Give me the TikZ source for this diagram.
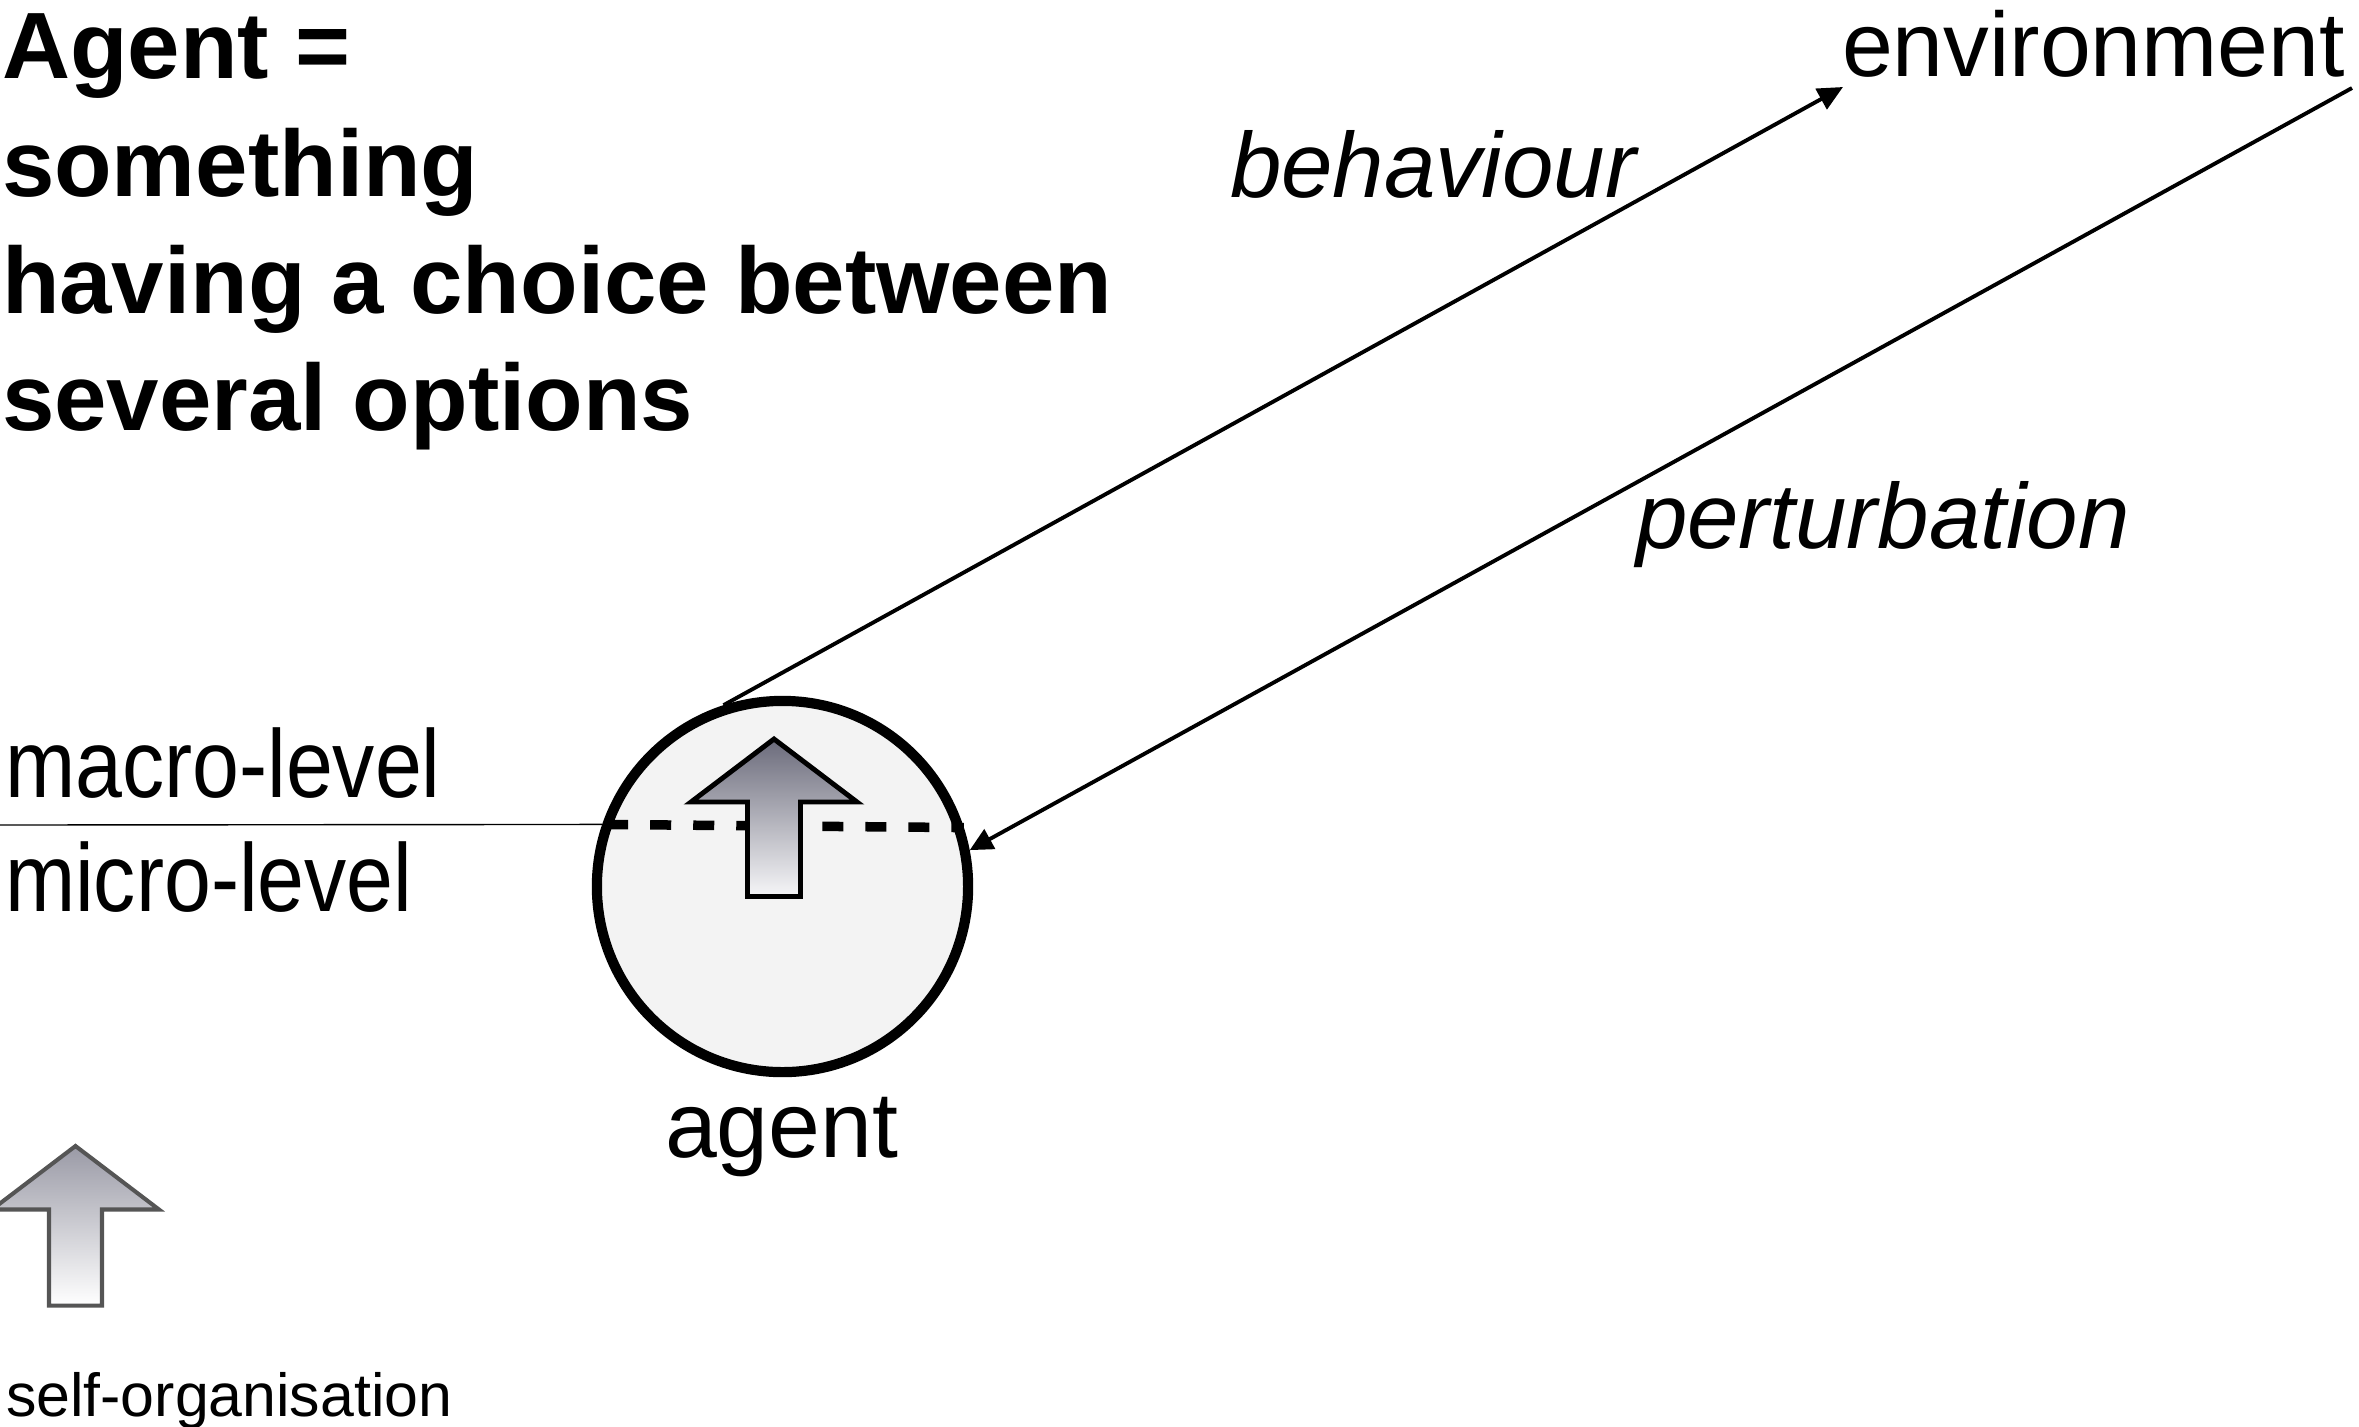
\documentclass[tikz,border=0pt]{standalone}
\usepackage{fontspec}
\setmainfont{Liberation Sans}
\usepackage{graphicx}
\usetikzlibrary{arrows.meta}
\definecolor{circfill}{HTML}{F3F3F3}
\definecolor{arrdark}{HTML}{6B6B7B}
\definecolor{arrlight}{HTML}{F6F6F8}
\definecolor{soTop}{HTML}{9A9AA6}
\definecolor{soStroke}{HTML}{555555}
\begin{document}
\begin{tikzpicture}[x=0.01cm,y=-0.01cm,
  lbl/.style={inner sep=0pt, outer sep=0pt, anchor=base west},
  headfont/.style={font=\bfseries\fontsize{26.8}{33}\selectfont},
  bigfont/.style={font=\fontsize{26}{32}\selectfont},
  itfont/.style={font=\itshape\fontsize{26.3}{32}\selectfont},
  flow/.style={line width=1.1pt},
  agentcircle/.style={circle, draw=black, line width=0.102cm, fill=circfill, minimum size=3.71cm, inner sep=0pt}
]
\useasboundingbox (0,0) rectangle (2359,1426);

% heading
\node[lbl, headfont] (h1) at (2,78) {Agent =};
\node[lbl, headfont] (h2) at (2,196) {something};
\node[lbl, headfont] (h3) at (2,313) {having a choice between};
\node[lbl, headfont] (h4) at (2,430) {several options};

% environment and labels
\node[lbl, bigfont] (env) at (1842,76) {environment};
\node[lbl, itfont] (beh) at (1230,197) {behaviour};
\node[lbl, itfont] (pert) at (1636,548) {perturbation};

% agent circle
\node[agentcircle] (agent) at (782.5,886.5) {};
\node[lbl, font=\fontsize{26.5}{32}\selectfont] (agentlbl) at (665,1157) {agent};

% level lines
\coordinate (lvl) at (0,825);
\draw[line width=0.4pt] (lvl) -- (agent.161.17);
\draw[line width=0.095cm, dash pattern=on 0.21cm off 0.22cm, dash phase=0.38cm] (agent.161.17) -- (agent.18.83);

% inner arrow
\draw[line width=1.4pt, line join=miter, top color=arrdark, bottom color=arrlight]
  (774,739) -- (857,802) -- (800.5,802) -- (800.5,896.5) -- (747.5,896.5) -- (747.5,802) -- (691,802) -- cycle;

\node[lbl, font=\fontsize{27.4}{32}\selectfont] (macro) at (5,797) {\scalebox{0.875}[1]{macro-level}};
\node[lbl, font=\fontsize{27.4}{32}\selectfont] (micro) at (5,911) {\scalebox{0.875}[1]{micro-level}};

% flows
\coordinate (envin) at (1843,87);
\coordinate (envout) at (2352,88);
\draw[flow, -{Triangle[length=0.25cm,width=0.23cm]}] (agent.108.3) -- (envin);
\draw[flow, -{Triangle[length=0.23cm,width=0.22cm]}] (envout) -- (agent.11.7);

% self-organisation arrow
\draw[line width=1.15pt, draw=soStroke, line join=miter, top color=soTop, bottom color=white]
  (75.5,1146) -- (159,1209.5) -- (102,1209.5) -- (102,1305.5) -- (49,1305.5) -- (49,1209.5) -- (-8,1209.5) -- cycle;
\node[lbl, font=\fontsize{17.3}{21}\selectfont] (selforg) at (6,1416) {self-organisation};
\end{tikzpicture}
\end{document}
